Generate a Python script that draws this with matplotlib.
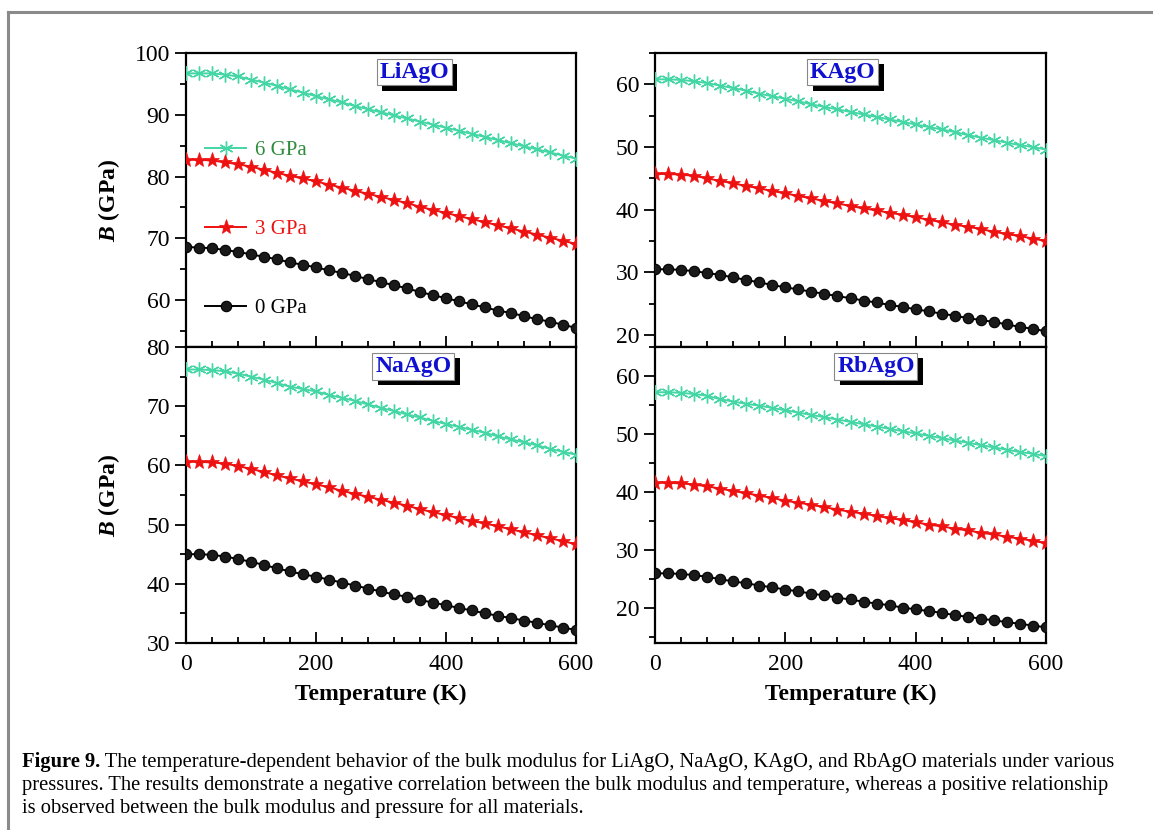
import matplotlib
matplotlib.use("Agg")
import matplotlib.pyplot as plt
import matplotlib.patheffects as pe
from matplotlib.ticker import MultipleLocator
from matplotlib.lines import Line2D

plt.rcParams["font.family"] = "Liberation Serif"
plt.rcParams["mathtext.fontset"] = "custom"
plt.rcParams["mathtext.rm"] = "Liberation Serif"
plt.rcParams["mathtext.bf"] = "Liberation Serif:bold"
plt.rcParams["mathtext.it"] = "Liberation Serif:italic"
plt.rcParams["mathtext.bfit"] = "Liberation Serif:italic:bold"

# temperature grid (K)
temps = list(range(0, 601, 20))

# bulk modulus B (GPa), per material and pressure
liago_0 = [68.6, 68.5, 68.4, 68.1, 67.8, 67.4, 67.0, 66.6, 66.1, 65.7, 65.3, 64.8, 64.4, 63.9, 63.4, 62.9,
           62.4, 61.9, 61.3, 60.8, 60.3, 59.8, 59.3, 58.8, 58.3, 57.9, 57.4, 56.9, 56.5, 56.0, 55.5]
liago_3 = [82.7, 82.7, 82.6, 82.3, 82.0, 81.6, 81.1, 80.6, 80.1, 79.7, 79.2, 78.7, 78.2, 77.7, 77.2, 76.7,
           76.2, 75.7, 75.1, 74.6, 74.1, 73.6, 73.1, 72.6, 72.1, 71.6, 71.1, 70.6, 70.1, 69.6, 69.1]
liago_6 = [96.7, 96.7, 96.7, 96.5, 96.2, 95.7, 95.2, 94.7, 94.1, 93.6, 93.0, 92.5, 92.0, 91.4, 90.9, 90.4,
           89.9, 89.4, 88.9, 88.4, 87.9, 87.4, 86.9, 86.4, 85.9, 85.4, 84.9, 84.4, 83.9, 83.4, 82.9]

kago_0 = [30.5, 30.5, 30.4, 30.2, 29.9, 29.6, 29.2, 28.8, 28.4, 28.0, 27.6, 27.3, 26.9, 26.6, 26.2, 25.9,
          25.5, 25.2, 24.8, 24.5, 24.1, 23.8, 23.4, 23.1, 22.7, 22.4, 22.1, 21.7, 21.3, 21.0, 20.6]
kago_3 = [45.7, 45.7, 45.6, 45.4, 45.0, 44.6, 44.2, 43.8, 43.4, 43.0, 42.6, 42.2, 41.8, 41.4, 41.0, 40.6,
          40.2, 39.9, 39.5, 39.2, 38.8, 38.4, 38.0, 37.6, 37.3, 36.9, 36.5, 36.1, 35.8, 35.4, 35.0]
kago_6 = [60.8, 60.8, 60.7, 60.5, 60.2, 59.8, 59.4, 59.0, 58.5, 58.1, 57.7, 57.3, 56.8, 56.4, 56.0, 55.6,
          55.2, 54.8, 54.4, 54.0, 53.6, 53.2, 52.8, 52.4, 51.9, 51.5, 51.1, 50.7, 50.3, 50.0, 49.6]

naago_0 = [45.0, 45.0, 44.9, 44.6, 44.2, 43.7, 43.2, 42.6, 42.1, 41.6, 41.2, 40.7, 40.2, 39.7, 39.2, 38.7,
           38.2, 37.8, 37.3, 36.8, 36.4, 35.9, 35.5, 35.0, 34.6, 34.2, 33.8, 33.4, 33.0, 32.6, 32.2]
naago_3 = [60.6, 60.6, 60.5, 60.3, 59.9, 59.4, 58.9, 58.3, 57.8, 57.3, 56.8, 56.3, 55.7, 55.2, 54.7, 54.2,
           53.7, 53.2, 52.6, 52.1, 51.6, 51.1, 50.6, 50.2, 49.7, 49.2, 48.7, 48.2, 47.7, 47.2, 46.7]
naago_6 = [76.2, 76.2, 76.1, 75.9, 75.5, 75.0, 74.5, 73.9, 73.3, 72.9, 72.5, 71.9, 71.4, 70.9, 70.3, 69.7,
           69.2, 68.6, 68.1, 67.5, 67.0, 66.5, 66.0, 65.5, 64.9, 64.4, 63.9, 63.4, 62.8, 62.3, 61.8]

rbago_0 = [26.0, 26.0, 25.9, 25.7, 25.4, 25.0, 24.6, 24.3, 23.9, 23.6, 23.2, 22.9, 22.5, 22.2, 21.8, 21.5,
           21.1, 20.8, 20.5, 20.1, 19.8, 19.5, 19.2, 18.8, 18.5, 18.2, 17.9, 17.6, 17.3, 17.0, 16.7]
rbago_3 = [41.6, 41.6, 41.5, 41.3, 41.0, 40.6, 40.2, 39.8, 39.4, 39.0, 38.5, 38.2, 37.8, 37.4, 37.0, 36.6,
           36.3, 35.9, 35.5, 35.2, 34.8, 34.4, 34.1, 33.7, 33.4, 33.0, 32.7, 32.3, 32.0, 31.6, 31.2]
rbago_6 = [57.2, 57.2, 57.1, 56.9, 56.6, 56.0, 55.6, 55.2, 54.9, 54.5, 54.1, 53.7, 53.3, 52.9, 52.5, 52.1,
           51.7, 51.3, 50.9, 50.5, 50.1, 49.7, 49.3, 48.9, 48.5, 48.1, 47.7, 47.3, 46.9, 46.6, 46.2]

pressure_labels = ["0 GPa", "3 GPa", "6 GPa"]

caption_bold = "Figure 9."
caption_lines = [
    " The temperature-dependent behavior of the bulk modulus for LiAgO, NaAgO, KAgO, and RbAgO materials under various",
    "pressures. The results demonstrate a negative correlation between the bulk modulus and temperature, whereas a positive relationship",
    "is observed between the bulk modulus and pressure for all materials.",
]

W, H = 1153, 830
fig = plt.figure(figsize=(W / 100, H / 100), dpi=100)


def frac(x0, y0, x1, y1):
    return [x0 / W, 1 - y1 / H, (x1 - x0) / W, (y1 - y0) / H]


panels = [
    ("LiAgO", frac(186, 53, 576, 347), (liago_0, liago_3, liago_6), (52.4, 100), 0.585, True, False),
    ("KAgO", frac(655, 53, 1046, 347), (kago_0, kago_3, kago_6), (18.1, 65), 0.48, False, False),
    ("NaAgO", frac(186, 347, 576, 643), (naago_0, naago_3, naago_6), (30, 80), 0.583, True, True),
    ("RbAgO", frac(655, 347, 1046, 643), (rbago_0, rbago_3, rbago_6), (14, 65), 0.565, False, True),
]

styles = [
    dict(color="black", marker="o", markersize=7.5, markerfacecolor="#1a1a1a", markeredgecolor="black",
         markeredgewidth=0.8),
    dict(color="#ee1111", marker="*", markersize=11, markeredgewidth=0.5),
    dict(color="#45d6a6", marker=(6, 2, 0), markersize=10, markeredgewidth=1.0),
]

for name, pos, series, ylim, lab_x, left_col, bottom_row in panels:
    ax = fig.add_axes(pos)
    handles = []
    for vals, st, lab in zip(series, styles, pressure_labels):
        h, = ax.plot(temps, vals, linewidth=1.4, label=lab, zorder=3, **st)
        handles.append(h)
    ax.set_xlim(0, 600)
    ax.set_ylim(*ylim)
    ax.xaxis.set_major_locator(MultipleLocator(200))
    ax.xaxis.set_minor_locator(MultipleLocator(40))
    ax.yaxis.set_major_locator(MultipleLocator(10))
    ax.yaxis.set_minor_locator(MultipleLocator(5))
    ax.tick_params(axis="x", which="both", direction="in", top=False, width=1.3)
    ax.tick_params(axis="x", which="major", length=8)
    ax.tick_params(axis="x", which="minor", length=4)
    ax.tick_params(axis="y", which="both", direction="out", right=False, width=1.3)
    ax.tick_params(axis="y", which="major", length=8, labelsize=17)
    ax.tick_params(axis="y", which="minor", length=4)
    ax.tick_params(axis="x", labelsize=17, pad=8)
    for s in ax.spines.values():
        s.set_linewidth(1.6)
    if not bottom_row:
        ax.tick_params(axis="x", labelbottom=False)
    else:
        ax.set_xlabel("Temperature (K)", fontsize=17, fontweight="bold", labelpad=6)
    if left_col:
        ax.set_ylabel(r"$\mathbfit{B}$ (GPa)", fontsize=17, fontweight="bold")
        ax.yaxis.set_label_coords(-0.165, 0.5)

    t = ax.text(lab_x, 0.935, name, transform=ax.transAxes, ha="center", va="center",
                fontsize=17, fontweight="bold", color="#1010d0", zorder=5,
                bbox=dict(boxstyle="square,pad=0.12", facecolor="white", edgecolor="#888888", linewidth=0.8))
    t.get_bbox_patch().set_path_effects([
        pe.SimplePatchShadow(offset=(4, -4), shadow_rgbFace="black", alpha=1.0),
        pe.Normal(),
    ])

    if name == "LiAgO":
        ax.legend(handles[::-1], pressure_labels[::-1], loc="upper left",
                  bbox_to_anchor=(0.0, 0.765), frameon=False, fontsize=15,
                  labelspacing=2.85, handlelength=2.0, handletextpad=0.4,
                  labelcolor=["#2e8b3a", "#ee1111", "black"])

# partial grey frame around the figure
fig.add_artist(Line2D([8 / W, 1.0], [1 - 12 / H, 1 - 12 / H], color="#8a8a8a", linewidth=2.2))
fig.add_artist(Line2D([8 / W, 8 / W], [0.0, 1 - 12 / H], color="#8a8a8a", linewidth=2.2))

# caption: bold lead-in, then the rest of line one right after it
cap_size = 14.8
cap = fig.text(22 / W, 1 - 762 / H, caption_bold, fontsize=cap_size, fontweight="bold",
               va="center", ha="left")
fig.canvas.draw()
bb = cap.get_window_extent()
fig.text(bb.x1 / W, 1 - 762 / H, caption_lines[0], fontsize=cap_size, va="center", ha="left")
fig.text(22 / W, 1 - 785 / H, caption_lines[1], fontsize=cap_size, va="center", ha="left")
fig.text(22 / W, 1 - 808 / H, caption_lines[2], fontsize=cap_size, va="center", ha="left")

fig.savefig("out.png", dpi=100)
